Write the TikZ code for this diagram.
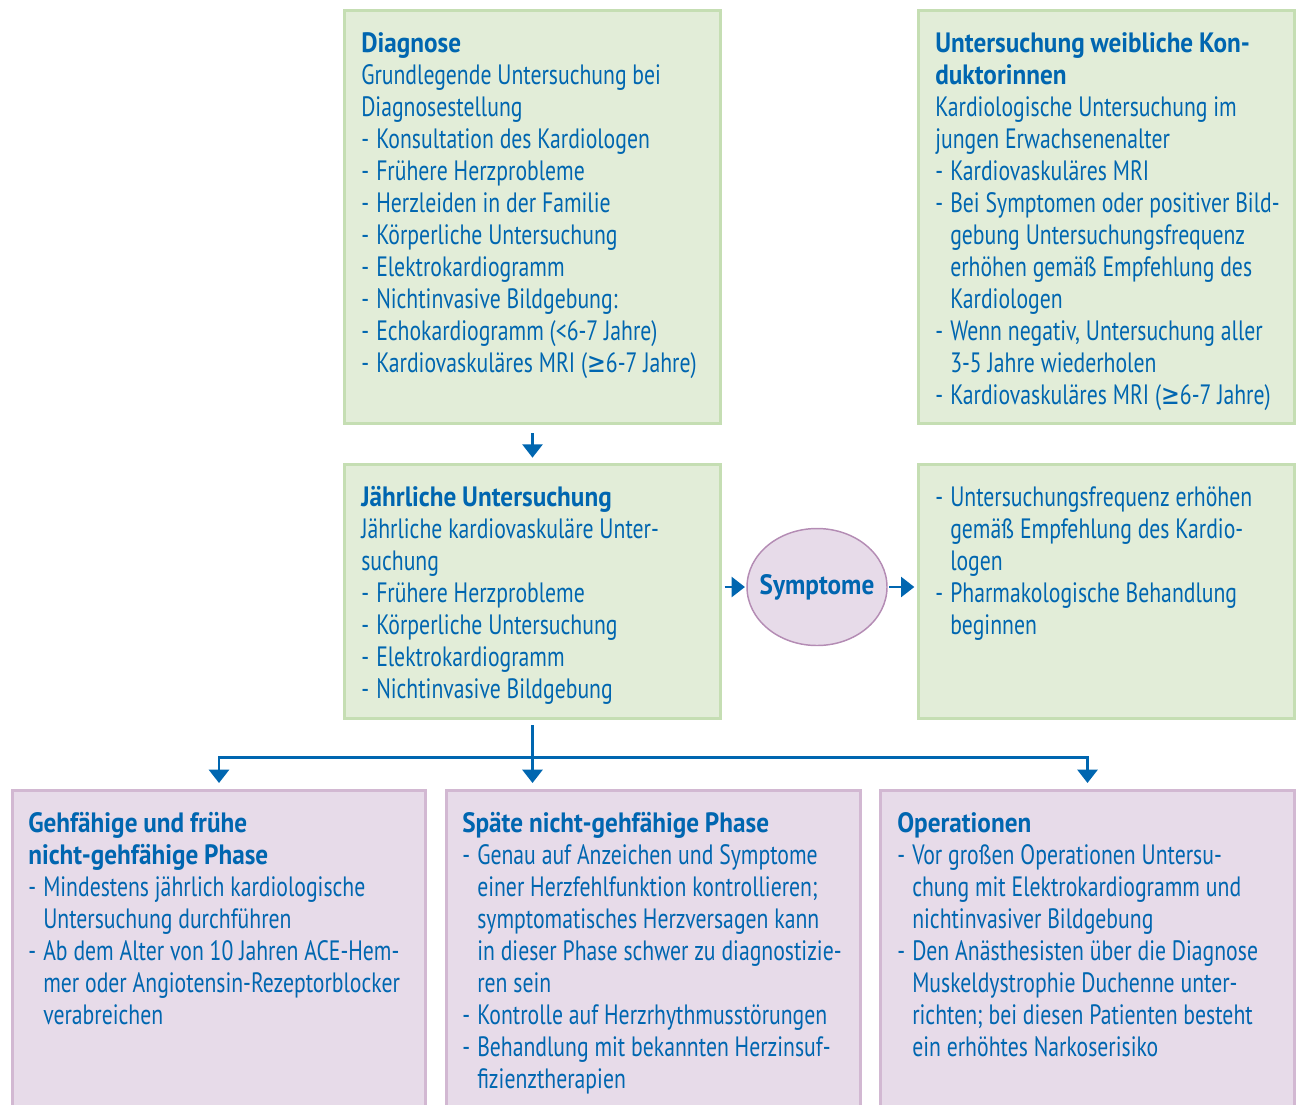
\documentclass[tikz,border=0pt]{standalone}
\usepackage{fontspec}
\setmainfont{PT Sans}[FakeStretch=0.775,BoldFeatures={FakeStretch=0.9}]
\newfontfamily\symfont{DejaVu Sans}[FakeStretch=0.8]
\usetikzlibrary{arrows.meta,shapes.geometric}
\definecolor{tblue}{HTML}{0066B0}
\definecolor{gfill}{HTML}{E2EDD8}
\definecolor{gdraw}{HTML}{C5DEB3}
\definecolor{pfill}{HTML}{E7DBE9}
\definecolor{pdraw}{HTML}{D2B8D2}
\definecolor{edraw}{HTML}{B48CB4}
\newcommand{\bul}{\makebox[11.25pt][l]{-}}
\newcommand{\ind}{\hspace*{11.25pt}}
\newcommand{\gsym}{{\symfont ≥}}
\newcommand{\fstrut}{\spaceskip=4.4pt plus 1pt minus 0.5pt\xspaceskip=4.4pt\relax\rule{0pt}{18pt}}
\newcommand{\txtfont}{\fontsize{21pt}{24pt}\selectfont}
\begin{document}
\begin{tikzpicture}[x=0.75pt,y=-0.75pt,
  boxbase/.style={rectangle,line width=2.25pt,inner sep=0pt,anchor=north west},
  gbox/.style={boxbase,fill=gfill,draw=gdraw},
  pbox/.style={boxbase,fill=pfill,draw=pdraw},
  txt/.style={anchor=north west,inner sep=0pt,text=tblue,align=left,text width=300pt,font=\txtfont},
  arr/.style={draw=tblue,line width=2pt,-{Triangle[width=15pt,length=10pt]}}
]
\useasboundingbox (0,0) rectangle (1298,1104);
\clip (0,0) rectangle (1298,1104);
% boxes
\node[gbox,minimum width=282pt,minimum height=309.75pt] (diag) at (343,9) {};
\node[gbox,minimum width=282pt,minimum height=309.75pt] (kond) at (917,9) {};
\node[gbox,minimum width=282pt,minimum height=190.5pt] (jahr) at (343,463) {};
\node[gbox,minimum width=282pt,minimum height=190.5pt] (freq) at (917,463) {};
\node[pbox,minimum width=309.75pt,minimum height=248.25pt] (geh) at (11,789) {};
\node[pbox,minimum width=310.5pt,minimum height=248.25pt] (spaet) at (445,789) {};
\node[pbox,minimum width=310.5pt,minimum height=248.25pt] (op) at (879,789) {};
\node[ellipse,fill=pfill,draw=edraw,line width=1.1pt,minimum width=105pt,minimum height=87.75pt,inner sep=0pt,
  text=tblue,font=\txtfont\bfseries] (sym) at (817,587) {\makebox[0pt]{Symptome}};
% texts
\node[txt] (tdiag) at ([shift={(18,19)}]diag.north west) {\fstrut\textbf{Diagnose}\\
Grundlegende Untersuchung bei\\
Diagnosestellung\\
\bul Konsultation des Kardiologen\\
\bul Frühere Herzprobleme\\
\bul Herzleiden in der Familie\\
\bul Körperliche Untersuchung\\
\bul Elektrokardiogramm\\
\bul Nichtinvasive Bildgebung:\\
\bul Echokardiogramm (<6-7 Jahre)\\
\bul Kardiovaskuläres MRI (\gsym6-7 Jahre)};
\node[txt] (tkond) at ([shift={(18,19)}]kond.north west) {\fstrut\textbf{Untersuchung weibliche Kon-}\\
\textbf{duktorinnen}\\
Kardiologische Untersuchung im\\
jungen Erwachsenenalter\\
\bul Kardiovaskuläres MRI\\
\bul Bei Symptomen oder positiver Bild-\\
\ind gebung Untersuchungsfrequenz\\
\ind erhöhen gemäß Empfehlung des\\
\ind Kardiologen\\
\bul Wenn negativ, Untersuchung aller\\
\ind 3-5 Jahre wiederholen\\
\bul Kardiovaskuläres MRI (\gsym6-7 Jahre)};
\node[txt] (tjahr) at ([shift={(18,19)}]jahr.north west) {\fstrut\textbf{Jährliche Untersuchung}\\
Jährliche kardiovaskuläre Unter-\\
suchung\\
\bul Frühere Herzprobleme\\
\bul Körperliche Untersuchung\\
\bul Elektrokardiogramm\\
\bul Nichtinvasive Bildgebung};
\node[txt] (tfreq) at ([shift={(18,19)}]freq.north west) {\fstrut\bul Untersuchungsfrequenz erhöhen\\
\ind gemäß Empfehlung des Kardio-\\
\ind logen\\
\bul Pharmakologische Behandlung\\
\ind beginnen};
\node[txt] (tgeh) at ([shift={(17,19)}]geh.north west) {\fstrut\textbf{Gehfähige und frühe}\\
\textbf{nicht-gehfähige Phase}\\
\bul Mindestens jährlich kardiologische\\
\ind Untersuchung durchführen\\
\bul Ab dem Alter von 10 Jahren ACE-Hem-\\
\ind mer oder Angiotensin-Rezeptorblocker\\
\ind verabreichen};
\node[txt] (tspaet) at ([shift={(17,19)}]spaet.north west) {\fstrut\textbf{Späte nicht-gehfähige Phase}\\
\bul Genau auf Anzeichen und Symptome\\
\ind einer Herzfehlfunktion kontrollieren;\\
\ind symptomatisches Herzversagen kann\\
\ind in dieser Phase schwer zu diagnostizie-\\
\ind ren sein\\
\bul Kontrolle auf Herzrhythmusstörungen\\
\bul Behandlung mit bekannten Herzinsuf-\\
\ind fizienztherapien};
\node[txt] (top) at ([shift={(18,19)}]op.north west) {\fstrut\textbf{Operationen}\\
\bul Vor großen Operationen Untersu-\\
\ind chung mit Elektrokardiogramm und\\
\ind nichtinvasiver Bildgebung\\
\bul Den Anästhesisten über die Diagnose\\
\ind Muskeldystrophie Duchenne unter-\\
\ind richten; bei diesen Patienten besteht\\
\ind ein erhöhtes Narkoserisiko};
% connectors
\draw[arr,shorten <=6pt,shorten >=4pt] (diag.south) -- (jahr.north);
\draw[arr,shorten <=2pt,shorten >=1pt] (jahr.east |- sym.west) -- (sym.west);
\draw[arr,shorten <=1pt,shorten >=2pt] (sym.east) -- (freq.west |- sym.east);
\coordinate (br) at ([yshift=-28pt]jahr.south);
\draw[arr,shorten <=4pt,shorten >=4.5pt] (jahr.south) -- (jahr.south |- spaet.north);
\draw[arr,shorten >=4.5pt] (br) -| (geh.north);
\draw[arr,shorten >=4.5pt] (br) -| (op.north);
\end{tikzpicture}
\end{document}
